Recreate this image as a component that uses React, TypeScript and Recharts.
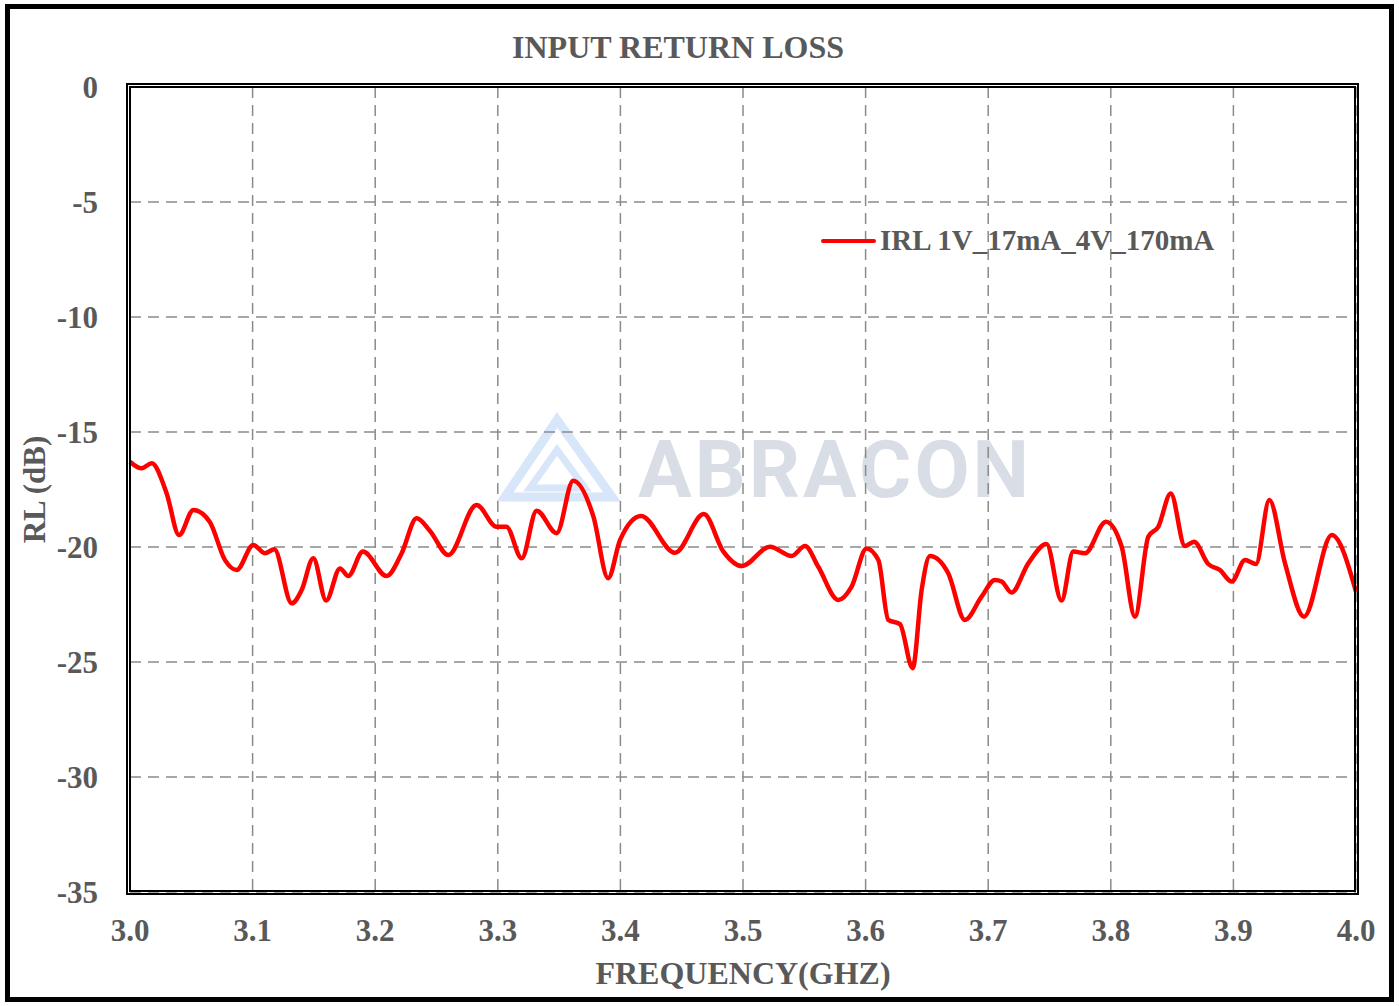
import { LineChart, Line, XAxis, YAxis, CartesianGrid } from 'recharts';

// frequency in GHz
const freqs = [
  3.0, 3.0095, 3.0177, 3.0299, 3.04, 3.0517, 3.065, 3.0775, 3.087, 3.1006,
  3.11, 3.1177, 3.1319, 3.14, 3.1495, 3.16, 3.1713, 3.178, 3.19, 3.2093,
  3.2216, 3.2338, 3.2447, 3.2596, 3.2827, 3.299, 3.307, 3.3195, 3.3317, 3.348,
  3.3615, 3.378, 3.39, 3.3997, 3.417, 3.4445, 3.468, 3.484, 3.499, 3.522,
  3.5397, 3.5506, 3.5614, 3.5777, 3.5886, 3.6008, 3.6104, 3.6185, 3.628, 3.6384,
  3.6457, 3.6525, 3.6674, 3.681, 3.6946, 3.7055, 3.711, 3.719, 3.7327, 3.7476,
  3.7598, 3.7694, 3.779, 3.796, 3.8089, 3.8197, 3.8306, 3.8387, 3.8489, 3.8605,
  3.8679, 3.8795, 3.889, 3.8986, 3.9095, 3.9184, 3.9293, 3.9421, 3.9576, 3.9802,
  4.0,
];

// input return loss in dB
const irl = [
  -16.29, -16.58, -16.36, -17.67, -19.48, -18.39, -18.9, -20.57, -21.0, -19.91,
  -20.27, -20.1, -22.45, -21.87, -20.49, -22.33, -20.93, -21.26, -20.2, -21.26,
  -20.27, -18.75, -19.3, -20.35, -18.17, -19.12, -19.12, -20.49, -18.42, -19.4,
  -17.12, -18.68, -21.36, -19.7, -18.65, -20.25, -18.57, -20.2, -20.83, -19.99,
  -20.39, -19.96, -20.86, -22.3, -21.72, -20.06, -20.57, -23.17, -23.35, -25.27,
  -21.87, -20.39, -21.14, -23.17, -22.16, -21.43, -21.5, -21.98, -20.71, -19.87,
  -22.33, -20.2, -20.27, -18.9, -19.99, -23.03, -19.55, -19.12, -17.67, -19.96,
  -19.77, -20.74, -21.0, -21.5, -20.57, -20.74, -17.96, -20.71, -23.03, -19.48,
  -21.94,
];

const xTicks = [3.0, 3.1, 3.2, 3.3, 3.4, 3.5, 3.6, 3.7, 3.8, 3.9, 4.0];
const yTicks = [0, -5, -10, -15, -20, -25, -30, -35];

const seriesName = 'IRL 1V_17mA_4V_170mA';

const data = freqs.map((f, i) => ({ f, irl: irl[i] }));

const FONT = '"Liberation Serif", "Times New Roman", serif';
const GREY = '#595959';

export default function App() {
  return (
    <div style={{ position: 'absolute', left: 0, top: 0, width: 1399, height: 1006, background: '#fff' }}>
      {/* outer frame */}
      <div style={{ position: 'absolute', left: 5, top: 4, width: 1379, height: 988, border: '5px solid #000' }} />

      {/* watermark */}
      <svg style={{ position: 'absolute', left: 0, top: 0, pointerEvents: 'none' }} width={1399} height={1006}>
        <g opacity={0.8}>
          <polygon points="557,420 505,497 612,497" fill="none" stroke="#cfe0fa" strokeWidth={9} />
          <polygon points="557,450 530,488 585,488" fill="none" stroke="#cfe0fa" strokeWidth={7} />
          <text x={638} y={497} fontFamily="Roboto, sans-serif" fontWeight={700} fontSize={80} fill="#d0d6e1" letterSpacing={3}>
            ABRACON
          </text>
        </g>
      </svg>

      <div style={{ position: 'absolute', left: 0, top: 0 }}>
        <LineChart width={1399} height={1006} data={data} margin={{ top: 87, right: 43, bottom: 0, left: 0 }}>
          <CartesianGrid stroke="#8a8a8a" strokeWidth={1.5} strokeDasharray="11 7" />
          <XAxis
            dataKey="f"
            type="number"
            domain={[3, 4]}
            ticks={xTicks}
            tickFormatter={(v: number) => v.toFixed(1)}
            tick={{ fill: GREY, fontSize: 31, fontWeight: 700, fontFamily: FONT }}
            tickLine={false}
            axisLine={false}
            tickMargin={21}
            height={114}
            label={{ value: 'FREQUENCY(GHZ)', position: 'insideBottom', offset: 22, fill: GREY, fontSize: 32, fontWeight: 700, fontFamily: FONT }}
          />
          <YAxis
            type="number"
            domain={[-35, 0]}
            ticks={yTicks}
            tick={{ fill: GREY, fontSize: 31, fontWeight: 700, fontFamily: FONT }}
            tickLine={false}
            axisLine={false}
            tickMargin={26}
            width={130}
            label={{ value: 'RL (dB)', angle: -90, position: 'insideLeft', offset: 34, fill: GREY, fontSize: 31, fontWeight: 700, fontFamily: FONT, style: { textAnchor: 'middle' } }}
          />
          <Line
            type="monotone"
            dataKey="irl"
            name={seriesName}
            stroke="#ff0000"
            strokeWidth={4.5}
            dot={false}
            isAnimationActive={false}
          />
        </LineChart>
      </div>

      {/* plot frame */}
      <div style={{ position: 'absolute', left: 126, top: 83, width: 1223, height: 802, border: '5px double #000', pointerEvents: 'none' }} />

      {/* legend */}
      <div style={{ position: 'absolute', left: 821, top: 224, display: 'flex', alignItems: 'center', fontFamily: FONT, fontWeight: 700, fontSize: 29, color: GREY }}>
        <div style={{ width: 55, height: 4, background: '#ff0000', borderRadius: 2, marginRight: 4 }} />
        <span>{seriesName}</span>
      </div>

      <div style={{ position: 'absolute', left: 0, top: 29, width: 1356, textAlign: 'center', fontFamily: FONT, fontWeight: 700, fontSize: 32, color: GREY }}>
        INPUT RETURN LOSS
      </div>
    </div>
  );
}
